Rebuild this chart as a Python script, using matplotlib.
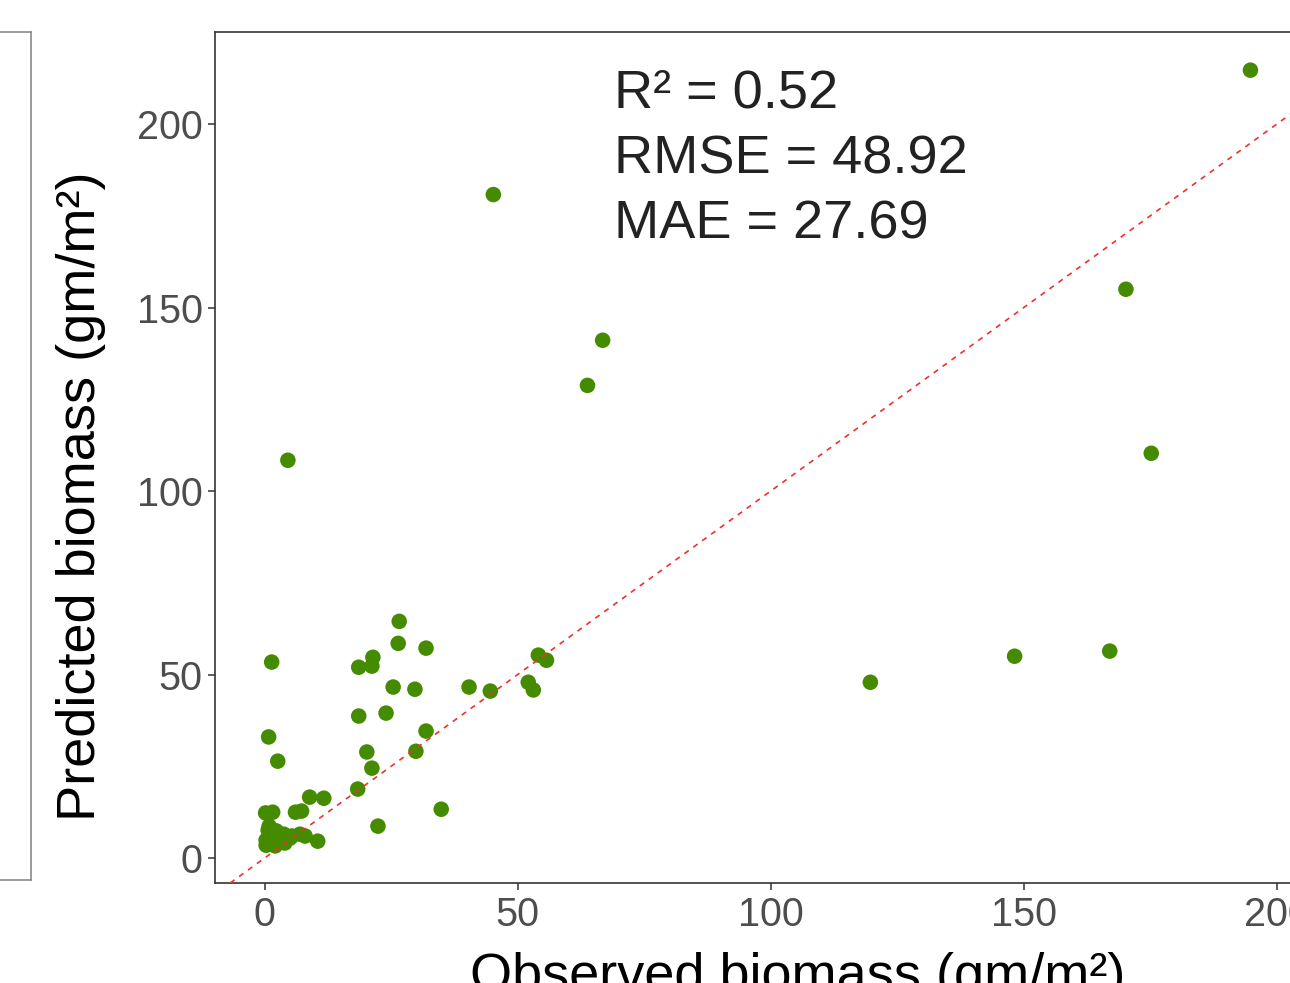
import matplotlib
matplotlib.use("Agg")
import matplotlib.pyplot as plt

plt.rcParams['font.family'] = ['Liberation Sans', 'DejaVu Sans']

# Observed vs predicted biomass (gm/m^2)
observed = [194.8, 45.2, 66.8, 63.8, 170.2, 175.2, 4.6, 119.7, 148.2, 167.0,
            1.4, 26.6, 26.4, 31.9, 21.4, 21.2, 18.6, 55.7, 54.1, 52.1,
            53.1, 44.6, 40.4, 25.4, 29.7, 18.6, 24.0, 31.9, 20.2, 29.9,
            21.2, 0.8, 2.6, 18.4, 34.9, 22.4, 10.5, 8.9, 11.7, 6.1,
            7.3, 0.2, 1.6,
            0.7, 2.3, 3.8, 5.4, 7.0, 0.3, 1.9, 3.4, 5.0, 0.3, 2.1, 4.0, 8.0, 0.9]
predicted = [214.7, 180.8, 141.1, 128.8, 155.0, 110.3, 108.4, 47.9, 55.0, 56.4,
             53.4, 64.5, 58.5, 57.2, 54.7, 52.3, 52.0, 53.9, 55.3, 47.9,
             45.8, 45.5, 46.6, 46.6, 46.0, 38.7, 39.5, 34.6, 28.9, 29.1,
             24.5, 33.0, 26.4, 18.8, 13.3, 8.7, 4.6, 16.6, 16.3, 12.5,
             12.8, 12.3, 12.5,
             7.6, 7.4, 6.5, 6.0, 6.5, 4.9, 4.4, 4.9, 5.4, 3.5, 3.3, 4.1, 6.0, 8.7]

stats_lines = ["R\u00b2 = 0.52", "RMSE = 48.92", "MAE = 27.69"]
x_ticks = [0, 50, 100, 150, 200]
y_ticks = [0, 50, 100, 150, 200]

W, H = 1290, 983
fig = plt.figure(figsize=(W / 100, H / 100), dpi=100)

def px_rect(l, t, r, b):
    return [l / W, 1 - b / H, (r - l) / W, (b - t) / H]

# partial neighbouring panel on the left edge
axl = fig.add_axes(px_rect(-60, 32, 31, 880))
axl.set_xticks([]); axl.set_yticks([])
for s in axl.spines.values():
    s.set_color('#8a8a8a'); s.set_linewidth(1.2)

ax = fig.add_axes(px_rect(215, 32, 1381, 883))
ax.set_xlim(-9.8, 220.6)
ax.set_ylim(-6.8, 225.1)

ax.axline((0, 0), slope=1, color='#f03030', lw=1.2, linestyle=(0, (3.2, 3.4)), zorder=3)
ax.scatter(observed, predicted, s=125, color='#458B00', edgecolors='none', zorder=2)

for s in ax.spines.values():
    s.set_color('#333333'); s.set_linewidth(1.2)
ax.set_xticks(x_ticks)
ax.set_yticks(y_ticks)
ax.tick_params(axis='both', length=5, width=1.1, color='#333333',
               labelsize=28.5, labelcolor='#4D4D4D', pad=4)

ax.set_xlabel("Observed biomass (gm/m\u00b2)", fontsize=39, color='black', labelpad=13)
ax.set_ylabel("Predicted biomass (gm/m\u00b2)", fontsize=39, color='black')
ax.yaxis.set_label_coords(-0.0935, 0.455)

for i, line in enumerate(stats_lines):
    ax.text(69.0, 204.4 - i * 17.8, line, fontsize=39, color='#222222',
            ha='left', va='baseline')

fig.savefig("out.png", dpi=100)
